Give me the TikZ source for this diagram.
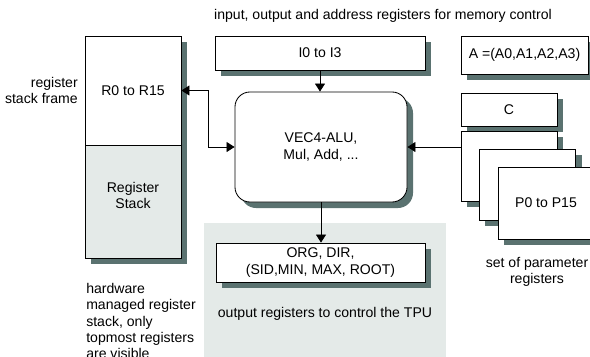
\documentclass[tikz,border=0pt]{standalone}
\usepackage{fontspec}
\setmainfont{Liberation Sans}
\usepackage{xcolor}
\usetikzlibrary{arrows.meta,positioning,backgrounds,calc}
\definecolor{shadowcol}{RGB}{90,114,112}
\definecolor{panelgray}{RGB}{228,234,232}

\begin{document}
\begin{tikzpicture}[
    x=0.025cm, y=-0.025cm,
    every node/.style={font=\fontsize{10}{11.6}\selectfont},
    reg/.style={draw=black, line width=0.6pt, fill=white, align=center, inner sep=2pt},
    alubox/.style={reg, rounded corners=0.375cm, minimum width=4.3cm, minimum height=2.75cm},
    dropfill/.style={fill=shadowcol},
    txt/.style={align=center, inner sep=0pt},
    arrow/.style={-{Triangle[length=0.2cm,width=0.25cm]}, line width=0.6pt},
    dblarrow/.style={{Triangle[length=0.2cm,width=0.25cm]}-{Triangle[length=0.2cm,width=0.25cm]}, line width=0.6pt}
]
    \useasboundingbox (0,0) rectangle (590,356);

    % panel and shadows
    \fill[panelgray] (204,223) rectangle (446,360);
    \fill[dropfill] (91,42) rectangle (187,264);
    \fill[dropfill] (221,42) rectangle (431,76);
    \fill[dropfill] (467,42) rectangle (594,80);
    \fill[dropfill, rounded corners=0.375cm] (241,98) rectangle (413,208);
    \fill[dropfill] (222,249) rectangle (431,288);

    % register stack
    \node[reg, minimum width=2.4cm, minimum height=2.725cm] (frame) at (133,90.5) {R0 to R15};
    \node[reg, fill=panelgray, minimum width=2.4cm, minimum height=2.825cm] (stack) at (133,201.5) {};
    \node[txt] (stacklbl) at (133,195.5) {Register\\Stack};

    % memory registers
    \node[reg, minimum width=5.25cm, minimum height=0.85cm] (ireg) at (320,53) {I0 to I3};
    \node[reg, minimum width=3.175cm, minimum height=0.95cm] (areg) at (524.5,55) {A =(A0,A1,A2,A3)};

    % ALU
    \node[alubox] (alu) at (321,147) {VEC4-ALU,\\Mul, Add, ...};

    % parameter registers
    \fill[dropfill] (467,99) rectangle (563,132);
    \node[reg, minimum width=2.4cm, minimum height=0.825cm] (creg) at (509,109.5) {C};
    \fill[dropfill] (467,137) rectangle (563,207);
    \node[reg, minimum width=2.4cm, minimum height=1.75cm] (p1) at (509,166) {};
    \fill[dropfill] (485,155) rectangle (582,226);
    \node[reg, minimum width=2.4cm, minimum height=1.775cm] (p2) at (527.5,184.5) {};
    \fill[dropfill] (504,173) rectangle (600,245);
    \node[reg, minimum width=2.4cm, minimum height=1.8cm] (p3) at (546,203) {P0 to P15};

    % output registers
    \node[reg, minimum width=5.225cm, minimum height=0.975cm] (oreg) at (320.5,262.5) {ORG, DIR,\\(SID,MIN, MAX, ROOT)};

    % labels
    \node[txt] (title) at (383,16) {input, output and address registers for memory control};
    \node[txt, anchor=east, align=right] (framelbl) at (78,90.5) {register\\stack frame};
    \node[txt, anchor=north west, align=left] (hwlbl) at (86,283) {hardware\\managed register\\stack, only\\topmost registers\\are visible};
    \node[txt] (outlbl) at (325,314) {output registers to control the TPU};
    \node[txt] (parlbl) at (537,272) {set of parameter\\registers};

    % connectors
    \draw[arrow] (ireg.south) -- (ireg.south |- alu.north);
    \draw[arrow] (alu.south) -- (alu.south |- oreg.north);
    \draw[arrow] (alu.east -| p1.west) -- (alu.east);
    \draw[dblarrow] (frame.east) -- ++(27,0) |- (alu.west);

\end{tikzpicture}
\end{document}
